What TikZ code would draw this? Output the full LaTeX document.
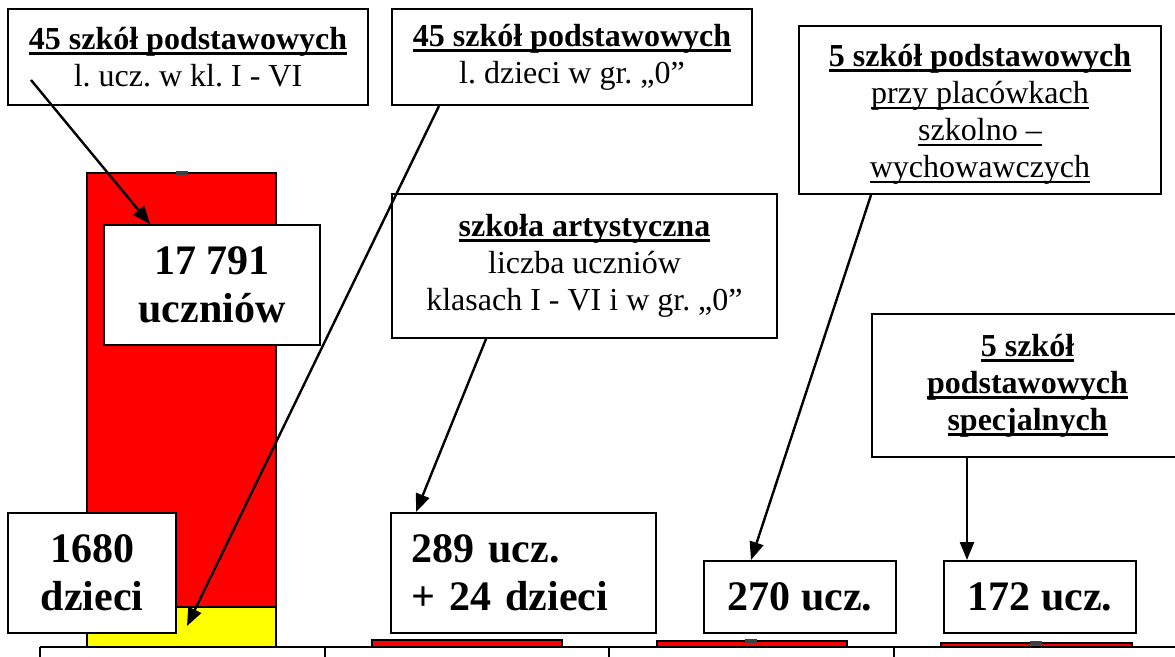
\documentclass[tikz,border=0pt]{standalone}
\usepackage{fontspec}
\setmainfont{Liberation Serif}
\usetikzlibrary{arrows.meta,calc}
\definecolor{barred}{RGB}{255,0,0}
\definecolor{baryellow}{RGB}{255,255,0}
\newsavebox\ulsave
\newcommand\ulB[1]{\sbox\ulsave{\bfseries #1}\rlap{\rule[-5.5pt]{\wd\ulsave}{3pt}}\usebox\ulsave}
\newcommand\ulR[1]{\sbox\ulsave{#1}\rlap{\rule[-6pt]{\wd\ulsave}{1.8pt}}\usebox\ulsave}
\frenchspacing
\begin{document}
\frenchspacing
\begin{tikzpicture}[x=1pt,y=-1pt,
  box/.style={draw, line width=2pt, fill=white, inner sep=0pt, align=center,
    font=\fontsize{32}{37}\selectfont\frenchspacing},
  bigbox/.style={box, font=\fontsize{42}{48}\selectfont\bfseries\frenchspacing},
  bar/.style={draw, line width=2pt},
  tickmark/.style={fill=black!75},
  arr/.style={line width=2.4pt, -{Triangle[length=18pt,width=14pt]}}]
\clip (0,0) rectangle (1175,656);
\fill[white] (0,0) rectangle (1175,656);
% bars
\path[bar, fill=barred] (87,173) rectangle (276,607);
\path[bar, fill=baryellow] (87,607) rectangle (276,647);
\path[bar, fill=barred] (372,640) rectangle (562,647);
\path[bar, fill=barred] (657,641) rectangle (847,647);
\path[bar, fill=barred] (941,643) rectangle (1132,647);
\path[tickmark] (176,171) rectangle (188,175);
\path[tickmark] (745,639) rectangle (757,643);
\path[tickmark] (1030,641) rectangle (1042,645);
% axis
\draw[line width=1.6pt] (40,647) -- (1180,647);
\foreach \x in {40,325,609,894} \draw[line width=1.6pt] (\x,647) -- (\x,660);
% label boxes
\node[box, minimum width=360pt, minimum height=96pt] (A) at (188,57)
  {\ulB{45 szkół podstawowych}\\ l. ucz. w kl. I - VI};
\node[box, minimum width=360pt, minimum height=96pt] (B) at (572,57)
  {\ulB{45 szkół podstawowych}\\ l. dzieci w gr. „0”};
\node[box, minimum width=362pt, minimum height=168pt] (C) at (980,110)
  {\raisebox{0pt}[30pt][0pt]{}\ulB{5 szkół podstawowych}\\ \ulR{przy placówkach}\\ \ulR{szkolno –}\\ \ulR{wychowawczych}};
\node[box, minimum width=385pt, minimum height=144pt] (D) at (584.5,266)
  {\ulB{szkoła artystyczna}\\ liczba uczniów\\ klasach I - VI i w gr. „0”};
\node[box, minimum width=311pt, minimum height=143pt] (E) at (1027.5,385.5)
  {\ulB{5 szkół}\\ \ulB{podstawowych}\\ \ulB{specjalnych}};
% value boxes
\node[bigbox, minimum width=216pt, minimum height=120pt] (N1) at (212,285) {17 791\\ uczniów};
\node[bigbox, minimum width=168pt, minimum height=120pt] (N2) at (92,573) {1680\\ dzieci};
\node[bigbox, align=left, text width=224pt, inner xsep=20.5pt, minimum height=120pt] (N3) at (523.5,573) {289 ucz.\\ + 24 dzieci};
\node[bigbox, minimum width=192pt, minimum height=72pt] (N4) at (800,597) {270 ucz.};
\node[bigbox, minimum width=192pt, minimum height=72pt] (N5) at (1040,597) {172 ucz.};
% arrows
\coordinate (a1s) at (31,80);
\coordinate (a2e) at (187,626);
\draw[arr] (a1s) -- ($(N1.north west)+(47,0)$);
\draw[arr] ($(B.south west)+(48,0)$) -- (a2e);
\draw[arr] ($(D.south west)+(95,0)$) -- ($(N3.north west)+(26,0)$);
\draw[arr] ($(C.south west)+(73,0)$) -- ($(N4.north west)+(48,0)$);
\draw[arr] ($(E.south west)+(96,0)$) -- ($(N5.north west)+(24,0)$);
\end{tikzpicture}
\end{document}
